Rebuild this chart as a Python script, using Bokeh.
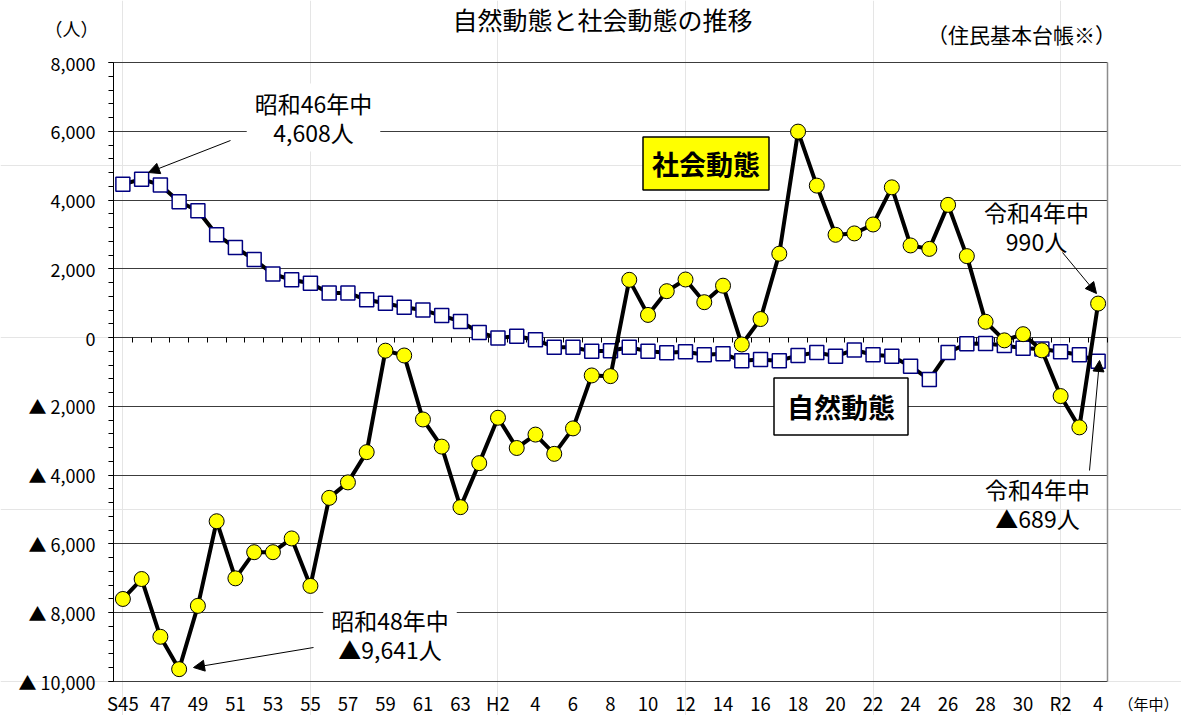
from bokeh.plotting import figure
from bokeh.models import (ColumnDataSource, FixedTicker, LinearAxis, Label, Arrow,
                          NormalHead, Range1d, Grid)
from bokeh.embed import file_html
from bokeh.resources import INLINE

# ---------------- data ----------------
years = (["S%d" % y for y in range(45, 64)] +
         ["H%d" % y for y in range(1, 31)] +
         ["R%d" % y for y in range(1, 5)])

# 自然動態 (natural change)
natural = [4460, 4608, 4440, 3950, 3690, 2990, 2620, 2270, 1850, 1680,
           1580, 1300, 1300, 1100, 1000, 880, 800, 640, 470, 150,
           -10, 40, -60, -280, -280, -400, -380, -280, -400, -440,
           -410, -500, -470, -670, -640, -670, -520, -430, -540, -360,
           -500, -540, -830, -1220, -430, -180, -170, -230, -310, -330,
           -410, -500, -689]

# 社会動態 (social change)
social = [-7600, -7020, -8700, -9641, -7800, -5340, -7000, -6240, -6240, -5840,
          -7220, -4660, -4210, -3330, -380, -520, -2380, -3170, -4930, -3650,
          -2330, -3210, -2820, -3380, -2640, -1100, -1120, 1680, 660, 1350,
          1690, 1030, 1510, -200, 540, 2440, 5990, 4420, 2990, 3030,
          3290, 4370, 2680, 2580, 3860, 2370, 460, -80, 100, -370,
          -1700, -2610, 990]

tick_labels = ["S45", "47", "49", "51", "53", "55", "57", "59", "61", "63",
               "H2", "4", "6", "8", "10", "12", "14", "16", "18", "20",
               "22", "24", "26", "28", "30", "R2", "4"]

y_ticks = [-10000, -8000, -6000, -4000, -2000, 0, 2000, 4000, 6000, 8000]
y_tick_labels = ["▲ 10,000", "▲ 8,000", "▲ 6,000", "▲ 4,000", "▲ 2,000",
                 "0", "2,000", "4,000", "6,000", "8,000"]

JP = "Noto Sans CJK JP"

# ---------------- geometry (canvas pixels -> data) ----------------
W, H = 1181, 715
N = len(years)
XMIN, XMAX = -0.5, N - 0.5
YMIN, YMAX = y_ticks[0], y_ticks[-1]
F_LEFT, F_RIGHT, F_TOP, F_BOTTOM = 113, 1107, 62, 681
PX_X = (F_RIGHT - F_LEFT) / (XMAX - XMIN)
PX_Y = (F_BOTTOM - F_TOP) / (YMAX - YMIN)


def dx(px):
    return XMIN + (px - F_LEFT) / PX_X


def dy(py):
    return YMAX - (py - F_TOP) / PX_Y


x = list(range(N))
src = ColumnDataSource(dict(x=x, year=years, natural=natural, social=social))

p = figure(width=W, height=H,
           x_range=Range1d(dx(0), dx(W)), y_range=Range1d(dy(H), dy(0)),
           x_axis_location=None, y_axis_location=None,
           output_backend="svg", toolbar_location=None,
           min_border=0, min_border_left=0, min_border_right=0,
           min_border_top=0, min_border_bottom=0)
p.title_location = None
p.background_fill_color = "white"
p.border_fill_color = "white"
p.outline_line_color = None

# horizontal grid lines (also top/bottom edges of the plot box)
p.add_layout(Grid(dimension=1, ticker=FixedTicker(ticks=y_ticks),
                  cross_bounds=(XMIN, XMAX),
                  grid_line_color="#3c3c3c", grid_line_width=1))
# right edge of plot box
p.add_layout(Grid(dimension=0, ticker=FixedTicker(ticks=[XMAX]),
                  cross_bounds=(YMIN, YMAX),
                  grid_line_color="#8c8c8c", grid_line_width=1.5))
# tick marks under the zero line, at category boundaries
p.add_layout(Grid(dimension=0,
                  ticker=FixedTicker(ticks=[k - 0.5 for k in range(N + 1)]),
                  cross_bounds=(-5 / PX_Y, 0),
                  grid_line_color="black", grid_line_width=1))

# y axis
ya = LinearAxis(fixed_location=XMIN, bounds=(YMIN, YMAX),
                ticker=FixedTicker(ticks=y_ticks, minor_ticks=list(range(YMIN, YMAX + 1, 400))))
ya.major_label_overrides = {v: lab for v, lab in zip(y_ticks, y_tick_labels)}
ya.axis_line_color = "black"
ya.axis_line_width = 1
ya.major_tick_in = 0
ya.major_tick_out = 5
ya.minor_tick_in = 0
ya.minor_tick_out = 5
ya.major_tick_line_color = "black"
ya.minor_tick_line_color = "black"
ya.major_label_standoff = 13
ya.major_label_text_font = JP
ya.major_label_text_font_size = "18px"
ya.major_label_text_color = "black"
p.add_layout(ya, "left")

# x axis labels under the plot box
xa = LinearAxis(fixed_location=YMIN, bounds=(XMIN, XMAX),
                ticker=FixedTicker(ticks=x[::2]))
xa.major_label_overrides = {i: lab for i, lab in zip(x[::2], tick_labels)}
xa.axis_line_color = None
xa.major_tick_line_color = None
xa.minor_tick_line_color = None
xa.major_tick_in = 0
xa.major_tick_out = 0
xa.major_label_standoff = 8
xa.major_label_text_font = JP
xa.major_label_text_font_size = "18.5px"
xa.major_label_text_color = "black"
p.add_layout(xa, "below")

# series
p.line("x", "natural", source=src, line_color="black", line_width=4)
p.scatter("x", "natural", source=src, marker="square", size=14,
          fill_color="white", line_color="#000080", line_width=1.5)
p.line("x", "social", source=src, line_color="black", line_width=4)
p.scatter("x", "social", source=src, marker="circle", size=15,
          fill_color="#FFFF00", line_color="black", line_width=1)


def lab(px, py, text, size, bold=False, **kw):
    l = Label(x=dx(px), y=dy(py), text=text, text_font=JP, text_font_size=size,
              text_align="center", text_baseline="middle", text_color="black",
              text_font_style="bold" if bold else "normal", **kw)
    p.add_layout(l)
    return l


# texts around the plot
lab(602, 18, "自然動態と社会動態の推移", "25px")
lab(71, 27, "（人）", "18px")
lab(1021, 33, "（住民基本台帳※）", "21px")
lab(1148, 703, "（年中）", "15px")

# boxed series labels
lab(705.5, 163, "社会動態", "27px", bold=True,
    background_fill_color="#FFFF00", border_line_color="black",
    border_line_width=1.5, padding=dict(x=9, y=7))
lab(840.5, 406, "自然動態", "27px", bold=True,
    background_fill_color="white", border_line_color="black",
    border_line_width=1.5, padding=dict(x=13, y=9))

# callouts
lab(313, 117, "昭和46年中\n4,608人", "23px",
    background_fill_color="white", padding=dict(x=8, y=2), text_line_height=0.88)
lab(389.5, 634, "昭和48年中\n▲9,641人", "23px",
    background_fill_color="white", padding=dict(x=8, y=2), text_line_height=0.88)
lab(1036, 226, "令和4年中\n990人", "23px", text_line_height=0.88)
lab(1037, 503, "令和4年中\n▲689人", "23px", text_line_height=0.88)


def arrow(x0, y0, x1, y1):
    p.add_layout(Arrow(end=NormalHead(size=11, fill_color="black", line_color="black"),
                       x_start=dx(x0), y_start=dy(y0), x_end=dx(x1), y_end=dy(y1),
                       line_color="black", line_width=1))


arrow(230, 140, 148, 172)
arrow(313, 647, 193, 667)
arrow(1062, 252, 1096, 293)
arrow(1089, 470, 1099, 360)

open("out.html", "w").write(file_html(p, INLINE))
